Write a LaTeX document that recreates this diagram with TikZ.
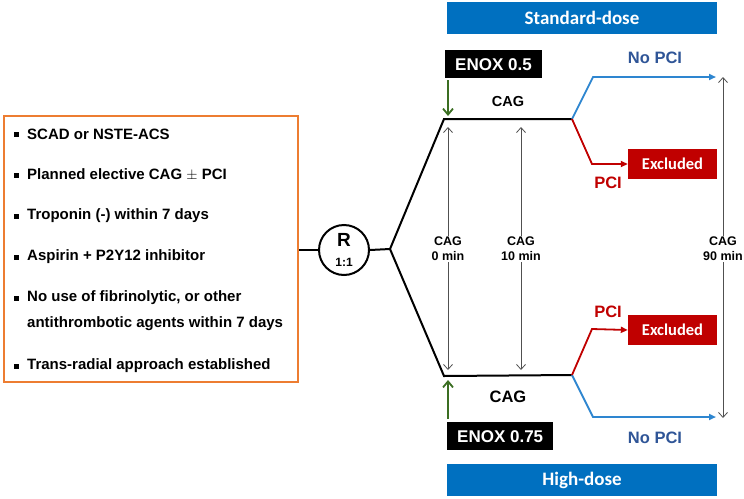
\documentclass[tikz,border=0pt]{standalone}
\usepackage{fontspec}
\setmainfont{Liberation Sans}
\newfontfamily\calfont{Carlito}
\usetikzlibrary{arrows.meta}
\definecolor{boxorange}{HTML}{ED7D31}
\definecolor{armblue}{HTML}{0070C0}
\definecolor{lineblue}{HTML}{2E86D0}
\definecolor{textblue}{HTML}{2F5597}
\definecolor{exred}{HTML}{C00000}
\definecolor{dosegreen}{HTML}{3B6E22}
\definecolor{timegray}{HTML}{505050}
\tikzset{
  bullet/.style={anchor=west, font=\bfseries\fontsize{15}{18}\selectfont, inner sep=0pt},
  bsq/.style={fill=black, minimum size=5pt, inner sep=0pt},
  armbox/.style={fill=armblue, text=white, font=\calfont\bfseries\fontsize{19}{22}\selectfont, minimum width=270pt, minimum height=32pt, inner sep=0pt},
  enoxbox/.style={fill=black, text=white, font=\bfseries\fontsize{17}{20}\selectfont, minimum height=28pt, inner sep=0pt, inner xsep=10pt, anchor=north west},
  exbox/.style={fill=exred, text=white, font=\calfont\bfseries\fontsize{16.5}{19}\selectfont, minimum width=89pt, minimum height=30pt, inner sep=0pt},
  pathline/.style={line width=2pt, black, line join=miter},
  noline/.style={line width=1.8pt, lineblue, -{Triangle[length=7pt,width=6pt]}},
  yesline/.style={line width=1.8pt, exred, -{Triangle[length=7pt,width=6pt]}},
  doselink/.style={line width=1.8pt, dosegreen, -{Straight Barb[length=6pt,width=10pt,line width=1.8pt]}},
  timeline/.style={line width=0.8pt, timegray, -{Straight Barb[length=5pt,width=9pt,line width=0.8pt]}},
  timelbl/.style={font=\bfseries\fontsize{12.5}{15}\selectfont, align=center, inner sep=1pt},
  outlbl/.style={font=\bfseries\fontsize{16.5}{19}\selectfont, inner sep=0pt},
}
\begin{document}
\begin{tikzpicture}[x=1pt, y=-1pt]
\useasboundingbox (0,0) rectangle (744,498);

% eligibility criteria
\node[draw=boxorange, line width=2pt, minimum width=294pt, minimum height=266pt, inner sep=0pt, anchor=north west] (crit) at (3,115) {};
\foreach \y/\t [count=\i] in {134/SCAD or NSTE-ACS,
    175/Planned elective CAG $\pm$ PCI,
    216/Troponin (-) within 7 days,
    257/Aspirin + P2Y12 inhibitor,
    298/{No use of fibrinolytic, or other},
    366/Trans-radial approach established} {
  \node[bsq] (b\i) at (16,\y) {};
  \node[bullet] (t\i) at (27,\y) {\t};
}
\node[bullet] (t5b) at (27,324) {antithrombotic agents within 7 days};

% randomisation
\node[draw, circle, line width=2pt, minimum size=50pt, inner sep=0pt] (R) at (344,250) {};
\node[font=\bfseries\fontsize{19}{22}\selectfont, inner sep=0pt] (Rl) at (344,240) {R};
\node[font=\bfseries\fontsize{12}{14}\selectfont, inner sep=0pt] (Rr) at (344,262) {1:1};
\coordinate (split) at (390,249);
\draw[pathline] (crit.east |- R) -- (R.west);
\draw[pathline] (R.east) -- (split);

% arms
\coordinate (up0) at (444,119);
\coordinate (up1) at (572,119);
\coordinate (lo0) at (444,376);
\coordinate (lo1) at (572,375);
\draw[pathline] (split) -- (up0) -- (up1);
\draw[pathline] (split) -- (lo0) -- (lo1);

\node[armbox] (std) at (582,18) {Standard-dose};
\node[armbox] (high) at (582,480) {High-dose};

\node[enoxbox] (e1) at (445,50) {ENOX 0.5};
\node[enoxbox] (e2) at (447,422) {ENOX 0.75};
\draw[doselink] (448,80) -- (448,116);
\draw[doselink] (448,419) -- (448,380);

\node[font=\bfseries\fontsize{14.5}{17}\selectfont, inner sep=0pt] (cagU) at (508,102) {CAG};
\node[font=\bfseries\fontsize{16.5}{19}\selectfont, inner sep=0pt] (cagL) at (508,397) {CAG};

% outcomes, standard-dose arm
\node[exbox] (x1) at (672.5,164) {Excluded};
\coordinate (nu) at (593,77);
\coordinate (pu) at (592,164);
\coordinate (nuEnd) at (716,77);
\draw[noline] (up1) -- (nu) -- (nuEnd);
\draw[yesline] (up1) -- (pu) -- (x1.west);
\node[outlbl, text=textblue] (n1) at (655,58) {No PCI};
\node[outlbl, text=exred] (p1) at (608,183) {PCI};

% outcomes, high-dose arm
\node[exbox] (x2) at (672.5,330) {Excluded};
\coordinate (nl) at (593,417);
\coordinate (pl) at (592,329);
\coordinate (nlEnd) at (716,417);
\draw[noline] (lo1) -- (nl) -- (nlEnd);
\draw[yesline] (lo1) -- (pl) -- (x2.west);
\node[outlbl, text=textblue] (n2) at (655,438) {No PCI};
\node[outlbl, text=exred] (p2) at (608,312) {PCI};

% sampling times
\node[timelbl] (c0) at (448,249) {CAG\\0 min};
\node[timelbl] (c10) at (521,249) {CAG\\10 min};
\node[timelbl] (c90) at (723,249) {CAG\\90 min};
\foreach \n/\yt/\yb in {c0/127/370, c10/127/370, c90/77/418} {
  \coordinate (\n t) at (\n.north |- 0,\yt);
  \coordinate (\n b) at (\n.south |- 0,\yb);
  \draw[timeline] (\n.north) -- (\n t);
  \draw[timeline] (\n.south) -- (\n b);
}
\end{tikzpicture}
\end{document}
